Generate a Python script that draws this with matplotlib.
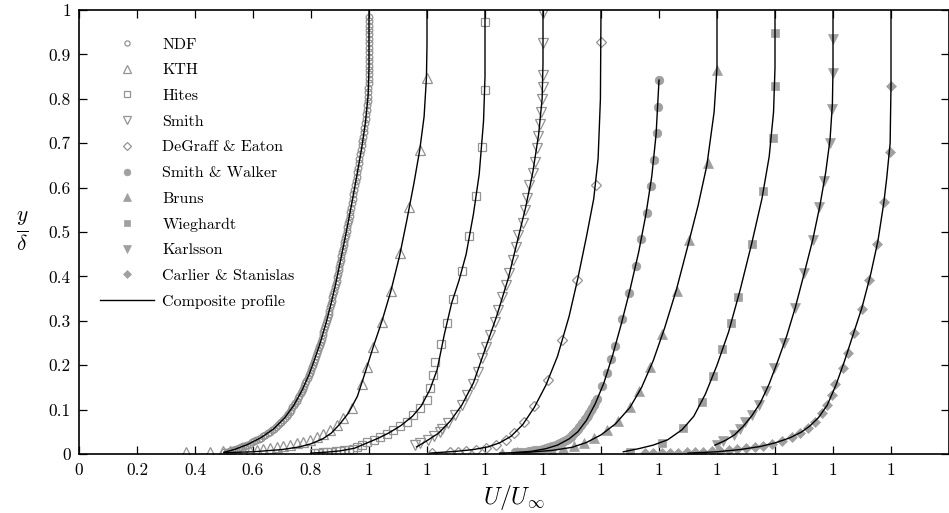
import matplotlib
matplotlib.use("Agg")
import matplotlib.pyplot as plt
from matplotlib.lines import Line2D

plt.rcParams['mathtext.fontset'] = 'cm'
plt.rcParams['font.family'] = ['cmr10', 'DejaVu Serif']
plt.rcParams['axes.formatter.use_mathtext'] = True

# ---------------- data (U/U_inf, y/delta), unshifted ----------------
labels = ['NDF', 'KTH', 'Hites', 'Smith', 'DeGraff & Eaton', 'Smith & Walker',
          'Bruns', 'Wieghardt', 'Karlsson', 'Carlier & Stanislas']

ndf_y = [0.004, 0.0055, 0.007, 0.0085, 0.010, 0.0115, 0.013, 0.015, 0.017, 0.019, 0.021,
         0.0235, 0.026, 0.0285, 0.031, 0.034, 0.037, 0.040, 0.043, 0.0465, 0.050, 0.0535,
         0.057, 0.061, 0.065, 0.069, 0.073, 0.0775, 0.082, 0.0865, 0.091, 0.0955, 0.100, 0.105,
         0.110, 0.115, 0.120, 0.1255, 0.131, 0.1365, 0.142, 0.1475, 0.153, 0.159, 0.165, 0.171,
         0.177, 0.183, 0.189, 0.195, 0.201, 0.2075, 0.214, 0.2205, 0.227, 0.2335, 0.240,
         0.2465, 0.253, 0.260, 0.267, 0.274, 0.281, 0.288, 0.295, 0.302, 0.309, 0.316, 0.323,
         0.3305, 0.338, 0.3455, 0.353, 0.3605, 0.368, 0.3755, 0.383, 0.3905, 0.398, 0.406,
         0.414, 0.422, 0.430, 0.438, 0.446, 0.454, 0.462, 0.470, 0.478, 0.486, 0.494, 0.5025,
         0.511, 0.5195, 0.528, 0.5365, 0.545, 0.555, 0.565, 0.575, 0.585, 0.595, 0.605, 0.615,
         0.625, 0.635, 0.645, 0.655, 0.665, 0.675, 0.685, 0.695, 0.705, 0.715, 0.725, 0.735,
         0.745, 0.755, 0.765, 0.775, 0.785, 0.795, 0.805, 0.815, 0.825, 0.835, 0.845, 0.855,
         0.865, 0.875, 0.885, 0.895, 0.905, 0.915, 0.925, 0.935, 0.945, 0.955, 0.965, 0.975,
         0.985]
ndf_u = [0.500, 0.510, 0.520, 0.528, 0.535, 0.543, 0.550, 0.558, 0.565, 0.573, 0.580,
         0.589, 0.597, 0.605, 0.612, 0.620, 0.628, 0.636, 0.643, 0.651, 0.658, 0.665,
         0.672, 0.679, 0.686, 0.692, 0.698, 0.704, 0.710, 0.716, 0.721, 0.726, 0.731, 0.736,
         0.741, 0.746, 0.750, 0.755, 0.759, 0.764, 0.768, 0.772, 0.776, 0.780, 0.784, 0.788,
         0.792, 0.796, 0.799, 0.803, 0.806, 0.810, 0.813, 0.817, 0.820, 0.824, 0.827,
         0.830, 0.833, 0.837, 0.840, 0.843, 0.846, 0.849, 0.852, 0.855, 0.858, 0.861, 0.863,
         0.866, 0.869, 0.872, 0.874, 0.877, 0.880, 0.883, 0.885, 0.888, 0.890, 0.893,
         0.895, 0.898, 0.900, 0.903, 0.905, 0.908, 0.910, 0.913, 0.915, 0.918, 0.920, 0.923,
         0.925, 0.928, 0.930, 0.933, 0.935, 0.938, 0.941, 0.944, 0.946, 0.949, 0.952, 0.954,
         0.957, 0.960, 0.962, 0.965, 0.967, 0.970, 0.972, 0.975, 0.977, 0.979, 0.982, 0.984,
         0.986, 0.988, 0.990, 0.992, 0.993, 0.995, 0.996, 0.997, 0.998, 0.999, 0.999, 1.000,
         1.000, 1.000, 1.000, 1.000, 1.000, 1.000, 1.000, 1.000, 1.000, 1.000, 1.000, 1.000,
         1.000]

kth_u = [0.169, 0.252, 0.298, 0.321, 0.344, 0.367, 0.390, 0.413, 0.435, 0.459, 0.482, 0.505,
         0.528, 0.550, 0.573, 0.597, 0.620, 0.642, 0.666, 0.689, 0.712, 0.740, 0.775, 0.792,
         0.815, 0.844, 0.875, 0.907, 0.939, 0.976, 0.999]
kth_y = [0.005, 0.005, 0.006, 0.006, 0.007, 0.007, 0.007, 0.009, 0.011, 0.013, 0.015, 0.018,
         0.020, 0.024, 0.028, 0.032, 0.038, 0.045, 0.054, 0.065, 0.080, 0.103, 0.158, 0.197,
         0.242, 0.298, 0.366, 0.452, 0.557, 0.685, 0.847]

hites_u = [0.410, 0.425, 0.440, 0.455, 0.470, 0.485, 0.500, 0.515, 0.530, 0.545, 0.560, 0.575,
           0.593, 0.616, 0.638, 0.661, 0.684, 0.707, 0.730, 0.753, 0.776, 0.799, 0.810, 0.822,
           0.828, 0.847, 0.870, 0.888, 0.920, 0.946, 0.969, 0.989, 1.000, 1.000]
hites_y = [0.003, 0.003, 0.004, 0.004, 0.005, 0.006, 0.007, 0.008, 0.010, 0.012, 0.015, 0.020,
           0.027, 0.032, 0.038, 0.045, 0.054, 0.062, 0.073, 0.088, 0.103, 0.122, 0.148, 0.178,
           0.208, 0.248, 0.294, 0.348, 0.413, 0.491, 0.582, 0.692, 0.820, 0.972]

smith_u = [0.559, 0.576, 0.604, 0.625, 0.645, 0.651, 0.674, 0.697, 0.720, 0.739, 0.760, 0.775,
           0.789, 0.803, 0.817, 0.834, 0.846, 0.857, 0.872, 0.884, 0.895, 0.907, 0.915, 0.930,
           0.938, 0.946, 0.953, 0.964, 0.972, 0.978, 0.984, 0.990, 0.994, 0.997, 0.999, 0.999,
           1.000, 1.000]
smith_y = [0.020, 0.024, 0.032, 0.040, 0.050, 0.056, 0.069, 0.088, 0.110, 0.133, 0.158, 0.185,
           0.216, 0.242, 0.268, 0.298, 0.324, 0.354, 0.381, 0.408, 0.437, 0.467, 0.493, 0.521,
           0.550, 0.576, 0.606, 0.632, 0.658, 0.689, 0.716, 0.743, 0.771, 0.799, 0.826, 0.854,
           0.925, 0.993]

degraff_u = [0.416, 0.479, 0.508, 0.536, 0.569, 0.603, 0.638, 0.672, 0.700, 0.734, 0.770,
             0.818, 0.864, 0.918, 0.982, 1.000]
degraff_y = [0.003, 0.005, 0.005, 0.007, 0.009, 0.013, 0.020, 0.032, 0.048, 0.071, 0.109,
             0.167, 0.257, 0.392, 0.606, 0.929]

sw_u = [0.503, 0.515, 0.525, 0.538, 0.550, 0.560, 0.570, 0.580, 0.590, 0.600, 0.612, 0.621,
        0.630, 0.638, 0.645, 0.652, 0.660, 0.666, 0.672, 0.678, 0.685, 0.690, 0.695, 0.700,
        0.705, 0.710, 0.715, 0.720, 0.725, 0.730, 0.735, 0.740, 0.745, 0.750, 0.755, 0.760,
        0.765, 0.770, 0.775, 0.780, 0.785, 0.802, 0.820, 0.834, 0.849, 0.874, 0.898, 0.921,
        0.938, 0.957, 0.971, 0.984, 0.994, 0.998, 1.000]
sw_y = [0.004, 0.0045, 0.005, 0.0055, 0.006, 0.007, 0.008, 0.009, 0.010, 0.0115, 0.013, 0.015,
        0.017, 0.019, 0.021, 0.023, 0.025, 0.027, 0.029, 0.0315, 0.034, 0.0365, 0.039, 0.042,
        0.045, 0.0485, 0.052, 0.056, 0.060, 0.0645, 0.069, 0.0735, 0.078, 0.083, 0.088, 0.093,
        0.098, 0.104, 0.110, 0.1165, 0.123, 0.153, 0.183, 0.213, 0.243, 0.303, 0.363, 0.423,
        0.484, 0.543, 0.604, 0.662, 0.722, 0.782, 0.842]

bruns_u = [0.257, 0.309, 0.355, 0.390, 0.430, 0.470, 0.507, 0.541, 0.576, 0.619, 0.660, 0.700,
           0.732, 0.769, 0.811, 0.861, 0.905, 0.970, 1.000]
bruns_y = [0.003, 0.005, 0.005, 0.007, 0.009, 0.013, 0.018, 0.024, 0.035, 0.053, 0.075, 0.105,
           0.143, 0.195, 0.270, 0.366, 0.482, 0.655, 0.865]

wieg_u = [0.500, 0.609, 0.684, 0.747, 0.787, 0.816, 0.848, 0.874, 0.919, 0.960, 0.992, 1.000,
          1.000]
wieg_y = [0.005, 0.024, 0.058, 0.116, 0.176, 0.236, 0.294, 0.354, 0.473, 0.592, 0.711, 0.829,
          0.949]

karl_u = [0.599, 0.622, 0.657, 0.679, 0.697, 0.719, 0.746, 0.769, 0.798, 0.831, 0.869, 0.900,
          0.930, 0.953, 0.969, 0.990, 0.998, 1.000, 1.000]
karl_y = [0.020, 0.030, 0.043, 0.056, 0.071, 0.088, 0.110, 0.143, 0.193, 0.249, 0.328, 0.407,
          0.482, 0.556, 0.615, 0.700, 0.777, 0.859, 0.934]

carl_u = [0.152, 0.180, 0.210, 0.238, 0.266, 0.297, 0.324, 0.352, 0.383, 0.410, 0.440, 0.470,
          0.500, 0.530, 0.560, 0.588, 0.623, 0.657, 0.686, 0.715, 0.738, 0.761, 0.778, 0.795,
          0.807, 0.833, 0.853, 0.872, 0.899, 0.925, 0.953, 0.976, 0.997, 1.000]
carl_y = [0.002, 0.002, 0.002, 0.003, 0.003, 0.004, 0.004, 0.005, 0.006, 0.007, 0.009, 0.011,
          0.013, 0.015, 0.019, 0.023, 0.030, 0.038, 0.047, 0.058, 0.073, 0.092, 0.110, 0.133,
          0.158, 0.193, 0.228, 0.273, 0.327, 0.393, 0.473, 0.567, 0.681, 0.829]

# composite profiles
comp_u = [
    [0.50, 0.535, 0.58, 0.628, 0.672, 0.71, 0.741, 0.768, 0.792, 0.813, 0.833, 0.852, 0.869,
     0.885, 0.90, 0.915, 0.93, 0.945, 0.96, 0.975, 0.988, 0.997, 1.0, 1.0],
    [0.30, 0.40, 0.50, 0.56, 0.60, 0.64, 0.67, 0.70, 0.73, 0.76, 0.79, 0.815, 0.845, 0.875,
     0.905, 0.93, 0.955, 0.975, 0.99, 0.998, 1.0, 1.0],
    [0.40, 0.45, 0.50, 0.55, 0.59, 0.63, 0.67, 0.71, 0.75, 0.78, 0.81, 0.835, 0.86, 0.885,
     0.91, 0.935, 0.96, 0.98, 0.995, 1.0, 1.0],
    [0.564, 0.60, 0.64, 0.68, 0.72, 0.76, 0.80, 0.84, 0.88, 0.91, 0.94, 0.965, 0.985, 0.997,
     1.0, 1.0],
    [0.41, 0.50, 0.56, 0.61, 0.65, 0.69, 0.73, 0.77, 0.81, 0.85, 0.89, 0.92, 0.95, 0.975,
     0.99, 0.998, 1.0],
    [0.50, 0.56, 0.61, 0.65, 0.69, 0.72, 0.75, 0.78, 0.81, 0.84, 0.87, 0.90, 0.93, 0.955,
     0.975, 0.99, 1.0],
    [0.25, 0.35, 0.43, 0.50, 0.55, 0.60, 0.65, 0.70, 0.74, 0.78, 0.82, 0.86, 0.90, 0.935,
     0.965, 0.99, 1.0, 1.0],
    [0.477, 0.53, 0.58, 0.63, 0.68, 0.72, 0.76, 0.80, 0.84, 0.88, 0.92, 0.955, 0.98, 0.995,
     1.0, 1.0],
    [0.593, 0.63, 0.66, 0.69, 0.72, 0.75, 0.78, 0.81, 0.84, 0.87, 0.90, 0.93, 0.955, 0.975,
     0.99, 0.998, 1.0, 1.0],
    [0.30, 0.40, 0.48, 0.55, 0.60, 0.65, 0.69, 0.72, 0.75, 0.78, 0.81, 0.84, 0.87, 0.90, 0.93,
     0.955, 0.975, 0.985, 0.997, 1.0, 1.0],
]
comp_y = [
    [0.004, 0.010, 0.021, 0.037, 0.057, 0.082, 0.110, 0.142, 0.177, 0.214, 0.253, 0.295, 0.338,
     0.383, 0.430, 0.478, 0.528, 0.580, 0.634, 0.690, 0.748, 0.808, 0.87, 1.0],
    [0.003, 0.005, 0.010, 0.016, 0.023, 0.034, 0.047, 0.068, 0.093, 0.13, 0.19, 0.242, 0.300,
     0.366, 0.445, 0.525, 0.61, 0.685, 0.76, 0.847, 0.92, 1.0],
    [0.002, 0.004, 0.007, 0.013, 0.024, 0.035, 0.048, 0.064, 0.085, 0.108, 0.145, 0.19, 0.27,
     0.34, 0.39, 0.45, 0.54, 0.63, 0.75, 0.85, 1.0],
    [0.016, 0.030, 0.047, 0.074, 0.11, 0.16, 0.235, 0.31, 0.395, 0.475, 0.555, 0.635, 0.72,
     0.80, 0.88, 1.0],
    [0.002, 0.006, 0.010, 0.016, 0.025, 0.040, 0.066, 0.105, 0.155, 0.22, 0.31, 0.395, 0.49,
     0.575, 0.665, 0.80, 1.0],
    [0.003, 0.006, 0.012, 0.02, 0.034, 0.05, 0.076, 0.113, 0.16, 0.222, 0.293, 0.37, 0.455,
     0.54, 0.625, 0.72, 0.842],
    [0.002, 0.004, 0.008, 0.015, 0.026, 0.043, 0.068, 0.105, 0.15, 0.21, 0.285, 0.37, 0.47,
     0.56, 0.65, 0.77, 0.87, 1.0],
    [0.005, 0.012, 0.02, 0.032, 0.055, 0.085, 0.135, 0.2, 0.275, 0.37, 0.475, 0.575, 0.67,
     0.77, 0.87, 1.0],
    [0.02, 0.031, 0.043, 0.062, 0.086, 0.116, 0.158, 0.21, 0.265, 0.33, 0.405, 0.482, 0.56,
     0.635, 0.71, 0.79, 0.87, 1.0],
    [0.002, 0.005, 0.010, 0.017, 0.025, 0.036, 0.049, 0.063, 0.082, 0.11, 0.155, 0.21, 0.27,
     0.33, 0.405, 0.48, 0.565, 0.62, 0.70, 0.83, 1.0],
]

x_ticks = [0.0, 0.2, 0.4, 0.6, 0.8, 1.0, 1.2, 1.4, 1.6, 1.8, 2.0, 2.2, 2.4, 2.6, 2.8]
x_ticklabels = ['0', '0.2', '0.4', '0.6', '0.8', '1', '1', '1', '1', '1', '1', '1', '1', '1', '1']
y_ticks = [0.0, 0.1, 0.2, 0.3, 0.4, 0.5, 0.6, 0.7, 0.8, 0.9, 1.0]
y_ticklabels = ['0', '0.1', '0.2', '0.3', '0.4', '0.5', '0.6', '0.7', '0.8', '0.9', '1']

# ---------------- plotting ----------------
series_u = [ndf_u, kth_u, hites_u, smith_u, degraff_u, sw_u, bruns_u, wieg_u, karl_u, carl_u]
series_y = [ndf_y, kth_y, hites_y, smith_y, degraff_y, sw_y, bruns_y, wieg_y, karl_y, carl_y]
markers = ['o', '^', 's', 'v', 'D', 'o', '^', 's', 'v', 'D']
filled = [False] * 5 + [True] * 5
msizes = [4.8, 6.6, 5.4, 6.6, 5.0, 6.2, 6.6, 5.4, 6.6, 5.4]
grey_open = '#939393'
grey_fill = '#a0a0a0'
shift = 0.2

fig = plt.figure(figsize=(9.49, 5.13), dpi=100)
ax = fig.add_axes([79 / 949, 59 / 513, 870 / 949, 444 / 513])

handles = []
for i in range(10):
    xs = [u + shift * i for u in series_u[i]]
    if filled[i]:
        kw = dict(markerfacecolor=grey_fill, markeredgecolor=grey_fill, markeredgewidth=0.5)
    else:
        kw = dict(markerfacecolor='none', markeredgecolor=grey_open, markeredgewidth=0.9)
    ax.plot(xs, series_y[i], linestyle='none', marker=markers[i], markersize=msizes[i],
            label=labels[i], zorder=2, **kw)
    handles.append(Line2D([], [], linestyle='none', marker=markers[i],
                          markersize=msizes[i] * 0.78, **kw))

for i in range(10):
    xs = [u + shift * i for u in comp_u[i]]
    ax.plot(xs, comp_y[i], color='black', lw=1.0, zorder=3)
handles.append(Line2D([], [], color='black', lw=1.0))

ax.set_xlim(0, 3.0)
ax.set_ylim(0, 1)
ax.set_xticks(x_ticks)
ax.set_xticklabels(x_ticklabels)
ax.set_yticks(y_ticks)
ax.set_yticklabels(y_ticklabels)
ax.tick_params(direction='in', length=6, width=0.9, top=True, right=True,
               labelsize=12.5, pad=6)
for sp in ax.spines.values():
    sp.set_linewidth(1.2)

ax.set_xlabel(r'$U/U_\infty$', fontsize=17, labelpad=4)
ax.set_ylabel(r'$\frac{y}{\delta}$', fontsize=22, rotation=0, labelpad=12, va='center')
ax.yaxis.set_label_coords(-0.065, 0.5)

leg = ax.legend(handles, labels + ['Composite profile'], loc='upper left',
                bbox_to_anchor=(21 / 870, 0.938), frameon=False, fontsize=11.5,
                handlelength=3.4, handletextpad=0.5, labelspacing=0.72,
                borderpad=0, borderaxespad=0)

fig.savefig('out.png', dpi=100)
